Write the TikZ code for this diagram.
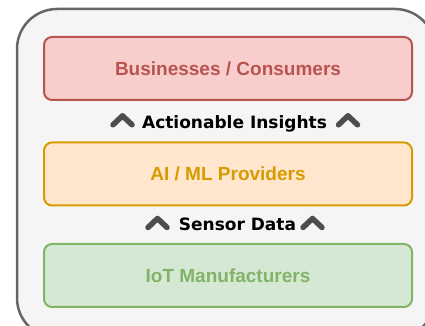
\documentclass[tikz,border=0pt]{standalone}
\usepackage{fontspec}
\setmainfont{Liberation Sans}
\newfontfamily\flowfont{DejaVu Sans}
\definecolor{outerfill}{HTML}{F5F5F5}
\definecolor{outerline}{HTML}{666666}
\definecolor{bizfill}{HTML}{F8CECC}
\definecolor{bizline}{HTML}{B85450}
\definecolor{aifill}{HTML}{FFE6CC}
\definecolor{ailine}{HTML}{D79B00}
\definecolor{iotfill}{HTML}{D5E8D4}
\definecolor{iotline}{HTML}{82B366}
\definecolor{chevgray}{HTML}{4D4D4D}
\begin{document}
\begin{tikzpicture}[x=1pt, y=1pt,
        layer/.style={draw, rounded corners=8pt, line width=2pt,
            minimum width=368pt, minimum height=63pt,
            font=\fontsize{19}{22}\selectfont\bfseries},
        flow/.style={font=\flowfont\fontsize{17}{20}\selectfont\bfseries,
            anchor=base, inner sep=0pt},
        chev/.style={draw=chevgray, line width=5.5pt, line cap=round, line join=round}]
        \useasboundingbox (0, 0) rectangle (425, 326);
        \draw[fill=outerfill, draw=outerline, line width=2.5pt, rounded corners=40pt]
            (17, 317) rectangle (435, -12);

        \node[layer, fill=bizfill, draw=bizline, text=bizline] (Biz) at (228, 257.5) {Businesses / Consumers};
        \node[layer, fill=aifill, draw=ailine, text=ailine]    (AI)  at (228, 152)   {AI / ML Providers};
        \node[layer, fill=iotfill, draw=iotline, text=iotline] (IoT) at (228, 50.5)  {IoT Manufacturers};

        \node[flow] (Ins) at (234.5, 197.7) {Actionable Insights};
        \node[flow] (Sen) at (237.5, 95.3)  {Sensor Data};

        \coordinate (InsL) at (122.5, 205.7);
        \coordinate (InsR) at (348, 205.7);
        \coordinate (SenL) at (157.5, 103);
        \coordinate (SenR) at (312.5, 103);

        \foreach \c in {InsL, InsR, SenL, SenR}
            \draw[chev] (\c) ++(-9.5, -4.5) -- ++(9.5, 9) -- ++(9.5, -9);
    \end{tikzpicture}
\end{document}
